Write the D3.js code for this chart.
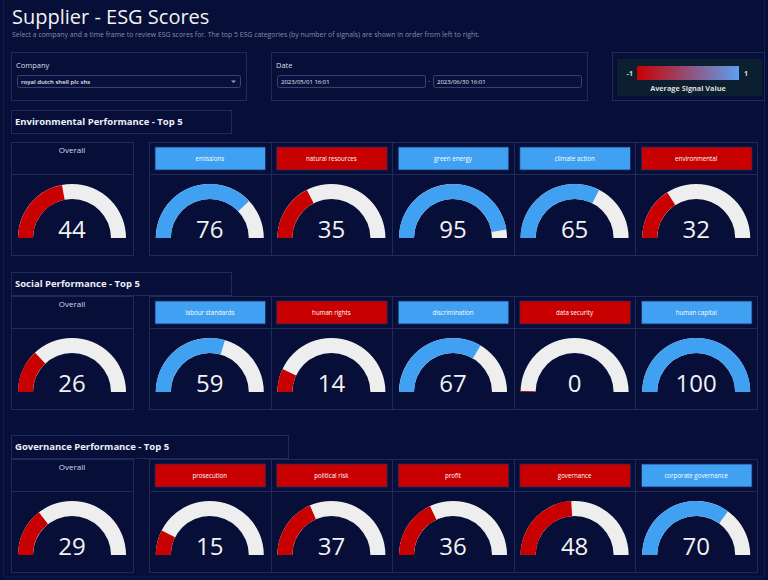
<!DOCTYPE html>
<html>
<head>
<meta charset="utf-8">
<script src="https://cdn.jsdelivr.net/npm/d3@7"></script>
<style>
  html, body { margin: 0; padding: 0; background: #070e38; }
  svg { display: block; font-family: "Open Sans", "Noto Sans", sans-serif; }
</style>
</head>
<body>
<div id="dash"></div>
<script>
// ESG data
const envCategories = ["emissions", "natural resources", "green energy", "climate action", "environmental"];
const envScores = [76, 35, 95, 65, 32];
const envOverall = 44;

const socCategories = ["labour standards", "human rights", "discrimination", "data security", "human capital"];
const socScores = [59, 14, 67, 0, 100];
const socOverall = 26;

const govCategories = ["prosecution", "political risk", "profit", "governance", "corporate governance"];
const govScores = [15, 37, 36, 48, 70];
const govOverall = 29;

const sections = [
    {title: "Environmental Performance - Top 5", cats: envCategories, scores: envScores, overall: envOverall},
    {title: "Social Performance - Top 5", cats: socCategories, scores: socScores, overall: socOverall},
    {title: "Governance Performance - Top 5", cats: govCategories, scores: govScores, overall: govOverall}
];

// layout bits (not data)
const layout = [
    {top: 110, headW: 220, panelTop: 142},
    {top: 272, headW: 220, panelTop: 296},
    {top: 435, headW: 277, panelTop: 459}
];

const W = 768, H = 580;
const RED = "#c80000", BLUE = "#40a0f2", TRACK = "#eeeeee";
const BORDER = "#1e2a5c", BG = "#070e38";

const svg = d3.select("#dash").append("svg")
    .attr("width", W)
    .attr("height", H);

svg.append("rect").attr("width", W).attr("height", H).attr("fill", BG);
// faint outer frame
svg.append("rect")
    .attr("x", 3.5).attr("y", -1).attr("width", 761).attr("height", 578)
    .attr("fill", "none").attr("stroke", "#121c4a");

// Title + subtitle
svg.append("text")
    .attr("x", 12).attr("y", 24)
    .attr("fill", "#f2f2f2")
    .style("font-size", "20px")
    .text("Supplier - ESG Scores");

svg.append("text")
    .attr("x", 12).attr("y", 37)
    .attr("fill", "#868da8")
    .style("font-size", "6.9px")
    .text("Select a company and a time frame to review ESG scores for. The top 5 ESG categories (by number of signals) are shown in order from left to right.");

// Company control
function panel(x, y, w, h) {
    return svg.append("rect")
        .attr("x", x + 0.5).attr("y", y + 0.5).attr("width", w).attr("height", h)
        .attr("fill", "none").attr("stroke", BORDER);
}
panel(11, 52, 235, 48);
svg.append("text").attr("x", 16).attr("y", 68).attr("fill", "#d8dbe8")
    .style("font-size", "7.5px").text("Company");
svg.append("rect").attr("x", 17.5).attr("y", 75.5).attr("width", 223).attr("height", 12).attr("rx", 2)
    .attr("fill", "#08103d").attr("stroke", "#39436e");
svg.append("text").attr("x", 21).attr("y", 84).attr("fill", "#e8e8f0")
    .style("font-size", "6px").style("font-weight", "600").text("royal dutch shell plc shs");
svg.append("path").attr("d", "M231,80.5 l2.5,2.5 l2.5,-2.5 z").attr("fill", "#9aa0bb");

// Date control
panel(271, 52, 316, 48);
svg.append("text").attr("x", 276).attr("y", 68).attr("fill", "#d8dbe8")
    .style("font-size", "7.5px").text("Date");
[{x: 277, w: 148, t: "2023/05/01 16:01"}, {x: 433, w: 148, t: "2023/06/30 16:01"}].forEach(d => {
    svg.append("rect").attr("x", d.x + 0.5).attr("y", 75.5).attr("width", d.w).attr("height", 12).attr("rx", 2)
        .attr("fill", "#08103d").attr("stroke", "#39436e");
    svg.append("text").attr("x", d.x + 4).attr("y", 84).attr("fill", "#e8e8f0")
        .style("font-size", "6px").text(d.t);
});
svg.append("text").attr("x", 429).attr("y", 83).attr("text-anchor", "middle").attr("fill", "#ccc")
    .style("font-size", "6px").text("-");

// Legend
panel(612, 52, 152, 48);
svg.append("rect").attr("x", 617).attr("y", 59).attr("width", 145).attr("height", 37).attr("fill", "#0b1f30");
const defs = svg.append("defs");
const grad = defs.append("linearGradient").attr("id", "sig");
const legScale = d3.scaleLinear().domain([-1, 1]).range([RED, "#5e9ef0"]);
d3.range(-1, 1.01, 0.25).forEach(v => {
    grad.append("stop").attr("offset", ((v + 1) / 2 * 100) + "%").attr("stop-color", legScale(v));
});
const legX = d3.scaleLinear().domain([-1, 1]).range([637, 739]);
svg.append("rect").attr("x", legX(-1)).attr("y", 66).attr("width", legX(1) - legX(-1)).attr("height", 14)
    .attr("fill", "url(#sig)");
svg.append("text").attr("x", legX(-1) - 4).attr("y", 76).attr("text-anchor", "end").attr("fill", "#ddd")
    .style("font-size", "7px").style("font-weight", "bold").text("-1");
svg.append("text").attr("x", legX(1) + 5).attr("y", 76).attr("fill", "#ddd")
    .style("font-size", "7px").style("font-weight", "bold").text("1");
svg.append("text").attr("x", (legX(-1) + legX(1)) / 2).attr("y", 91).attr("text-anchor", "middle").attr("fill", "#ddd")
    .style("font-size", "7.3px").style("font-weight", "bold").text("Average Signal Value");

// gauges
const angle = d3.scaleLinear().domain([0, 100]).range([-Math.PI / 2, Math.PI / 2]);
const colorOf = d3.scaleThreshold().domain([50]).range([RED, BLUE]);
const arc = d3.arc().innerRadius(39).outerRadius(54);

function gauge(g, cx, cy, value) {
    const gg = g.append("g").attr("transform", `translate(${cx},${cy})`);
    gg.append("path")
        .attr("d", arc({startAngle: angle(0), endAngle: angle(100)}))
        .attr("fill", TRACK);
    gg.append("path")
        .attr("d", arc({startAngle: angle(0), endAngle: angle(Math.max(value, 0.6))}))
        .attr("fill", colorOf(value));
    gg.append("text")
        .attr("x", 0).attr("y", 0)
        .attr("text-anchor", "middle")
        .attr("fill", "#f2f2f2")
        .style("font-size", "24px")
        .text(value);
}

const cellX = d3.scaleBand().domain(d3.range(5)).range([149, 757]);

sections.forEach((s, i) => {
    const L = layout[i];
    const g = svg.append("g");

    // header box
    g.append("rect").attr("x", 11.5).attr("y", L.top + 0.5).attr("width", L.headW).attr("height", 23)
        .attr("fill", "none").attr("stroke", BORDER);
    g.append("text").attr("x", 15).attr("y", L.top + 15)
        .attr("fill", "#eef0f8")
        .style("font-size", "9.5px").style("font-weight", "bold")
        .text(s.title);

    const pt = L.panelTop, ph = 113, div = 32;

    // overall panel
    g.append("rect").attr("x", 11.5).attr("y", pt + 0.5).attr("width", 122).attr("height", ph)
        .attr("fill", "none").attr("stroke", BORDER);
    g.append("line").attr("x1", 11.5).attr("x2", 133.5).attr("y1", pt + div + 0.5).attr("y2", pt + div + 0.5)
        .attr("stroke", BORDER);
    g.append("text").attr("x", 72).attr("y", pt + 11).attr("text-anchor", "middle")
        .attr("fill", "#d8dbe8").style("font-size", "8px").text("Overall");
    gauge(g, 72, pt + 96, s.overall);

    // category cells
    g.append("rect").attr("x", 149.5).attr("y", pt + 0.5).attr("width", 608).attr("height", ph)
        .attr("fill", "none").attr("stroke", BORDER);
    g.append("line").attr("x1", 149.5).attr("x2", 757.5).attr("y1", pt + div + 0.5).attr("y2", pt + div + 0.5)
        .attr("stroke", BORDER);

    s.cats.forEach((c, j) => {
        const x0 = cellX(j), bw = cellX.bandwidth();
        if (j > 0) {
            g.append("line").attr("x1", Math.round(x0) + 0.5).attr("x2", Math.round(x0) + 0.5)
                .attr("y1", pt).attr("y2", pt + ph).attr("stroke", BORDER);
        }
        g.append("rect")
            .attr("x", x0 + 6).attr("y", pt + 5).attr("width", bw - 11).attr("height", 23)
            .attr("fill", colorOf(s.scores[j]))
            .attr("stroke", "#1a2a66").attr("stroke-width", 0.8);
        g.append("text")
            .attr("x", x0 + bw / 2).attr("y", pt + 18.5)
            .attr("text-anchor", "middle")
            .attr("fill", "#ffffff")
            .style("font-size", "6.2px")
            .text(c);
        gauge(g, x0 + bw / 2, pt + 96, s.scores[j]);
    });
});
</script>
</body>
</html>
